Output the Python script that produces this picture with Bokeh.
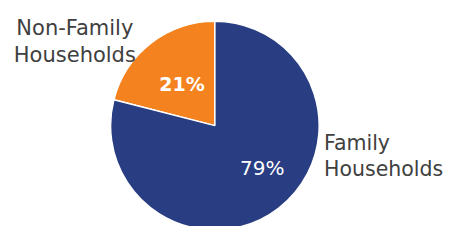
import numpy as np
from bokeh.plotting import figure
from bokeh.models import ColumnDataSource
from bokeh.core.properties import value
from bokeh.embed import file_html
from bokeh.resources import INLINE

# ---- data ----
categories = ["Non-Family Households", "Family Households"]
shares = [21, 79]
colors = ["#F4821F", "#283D82"]
pct_labels = ["21%", "79%"]

# ---- layout: data space mirrors the 466x242 reference, drawn on 450x226 canvas ----
W, H = 450, 226
RW, RH = 466, 242
cx, cy, r = 222, 108, 108

frac = np.array(shares, dtype=float) / sum(shares)
start0 = np.pi / 2
ends = start0 + np.cumsum(frac) * 2 * np.pi
starts = np.concatenate([[start0], ends[:-1]])

src = ColumnDataSource(dict(start=starts, end=ends, color=colors, name=categories))

p = figure(width=W, height=H, x_range=(0, RW), y_range=(0, RH),
           output_backend="svg", toolbar_location=None,
           min_border=0, outline_line_color=None, background_fill_color="white")
p.axis.visible = False
p.grid.visible = False

p.wedge(x=cx, y=cy, radius=r, start_angle="start", end_angle="end",
        fill_color="color", line_color="white", line_width=1.5, source=src)

font = value("DejaVu Sans")

# outside category labels
p.text(x=[77, 77], y=[213, 184], text=["Non-Family", "Households"],
       text_font=font, text_font_size="21px", text_color="#404040",
       text_align="center", text_baseline="alphabetic")
p.text(x=[335, 335], y=[89.5, 62], text=["Family", "Households"],
       text_font=font, text_font_size="20.5px", text_color="#404040",
       text_align="left", text_baseline="alphabetic")

# percentage labels
p.text(x=[188], y=[152.5], text=[pct_labels[0]], text_font=font,
       text_font_size="19px", text_font_style="bold", text_color="white",
       text_align="center", text_baseline="alphabetic")
p.text(x=[271], y=[62.5], text=[pct_labels[1]], text_font=font,
       text_font_size="20px", text_color="white",
       text_align="center", text_baseline="alphabetic")

open("out.html", "w").write(file_html(p, INLINE))
